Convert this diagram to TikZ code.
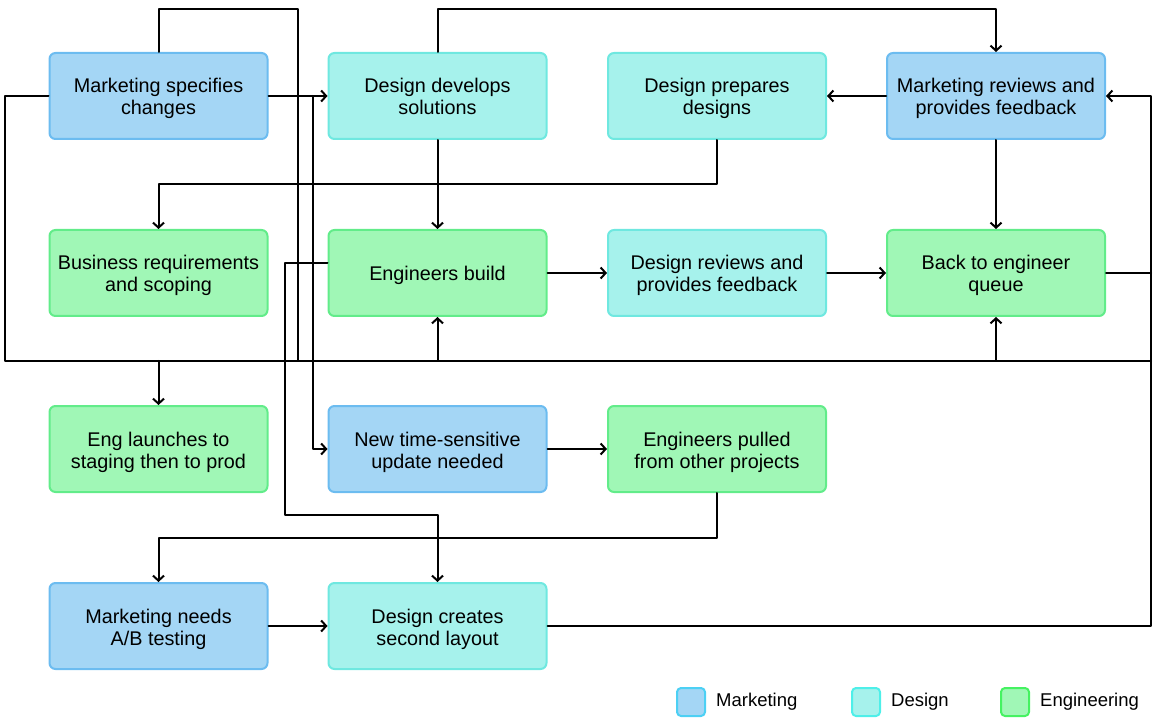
\documentclass[tikz,border=0pt]{standalone}
\usepackage{fontspec}
\setmainfont{Liberation Sans}
\usetikzlibrary{arrows.meta,positioning}

\definecolor{mktfill}{HTML}{A4D6F5}
\definecolor{mktline}{HTML}{6CBCF0}
\definecolor{desfill}{HTML}{A6F2EC}
\definecolor{desline}{HTML}{6FE8E0}
\definecolor{engfill}{HTML}{A0F7B6}
\definecolor{engline}{HTML}{62EC8A}

\tikzset{
  stepnode/.style={rounded corners=6pt, line width=2pt, minimum width=218pt,
    minimum height=86pt, align=center, inner sep=0pt,
    text height=42pt, text depth=4pt,
    font=\fontsize{19.8}{22}\selectfont},
  oneline/.style={text height=20pt, text depth=4pt},
  mkt/.style={stepnode, fill=mktfill, draw=mktline},
  des/.style={stepnode, fill=desfill, draw=desline},
  eng/.style={stepnode, fill=engfill, draw=engline},
  keybox/.style={rounded corners=4pt, line width=2pt, minimum size=28pt, inner sep=0pt},
  keytext/.style={anchor=west, inner sep=0pt, font=\fontsize{18.5}{20}\selectfont},
  flow/.style={line width=2pt, -{Straight Barb[length=5pt,width=11pt,line width=2pt]}},
  wire/.style={line width=2pt}
}

\begin{document}
\begin{tikzpicture}[x=1pt,y=-1pt,line cap=round,line join=round]
\useasboundingbox (0,0) rectangle (1157,719);

% boxes
\node[mkt] (specify) at (158.5,96) {Marketing specifies\\changes};
\node[des] (develop) at (437.5,96) {Design develops\\solutions};
\node[des] (prepare) at (717,96) {Design prepares\\designs};
\node[mkt] (review) at (996,96) {Marketing reviews and\\provides feedback};
\node[eng] (scoping) at (158.5,273) {Business requirements\\and scoping};
\node[eng, oneline] (build) at (437.5,273) {Engineers build};
\node[des] (desreview) at (717,273) {Design reviews and\\provides feedback};
\node[eng] (queue) at (996,273) {Back to engineer\\queue};
\node[eng] (launch) at (158.5,449) {Eng launches to\\staging then to prod};
\node[mkt] (urgent) at (437.5,449) {New time-sensitive\\update needed};
\node[eng] (pulled) at (717,449) {Engineers pulled\\from other projects};
\node[mkt] (abtest) at (158.5,626) {Marketing needs\\A/B testing};
\node[des] (layout) at (437.5,626) {Design creates\\second layout};

% bus and corners
\coordinate (busL) at (5,361);
\coordinate (busR) at (1151,361);
\coordinate (topL) at (298,9);
\coordinate (topR) at (996,9);
\draw[wire] (specify.west) -- (busL |- specify.west) -- (busL) -- (busR);
\draw[wire] (specify.north) -- (specify.north |- topL) -- (topL) -- (topL |- busL);
\draw[flow] (build.south |- busL) -- (build.south);
\draw[flow] (queue.south |- busL) -- (queue.south);
\draw[flow] (launch.north |- busL) -- (launch.north);

\draw[flow] (specify.east) -- (develop.west);
\draw[flow] (313,96) -- (313,449) -- (urgent.west);
\draw[flow] (develop.north) -- (develop.north |- topR) -- (topR) -- (review.north);
\draw[flow] (review.west) -- (prepare.east);
\draw[flow] (review.south) -- (queue.north);
\draw[flow] (develop.south) -- (build.north);
\draw[flow] (prepare.south) -- (717,184) -- (158.5,184) -- (scoping.north);
\draw[flow] (build.east) -- (desreview.west);
\draw[flow] (desreview.east) -- (queue.west);
\draw[wire] (queue.east) -- (busR |- queue.east);
\draw[flow] (layout.east) -- (busR |- layout.east) -- (busR |- review.east) -- (review.east);
\draw[flow] ([yshift=10pt]build.west) -- (285,263) -- (285,515) -- (437.5,515) -- (layout.north);
\draw[flow] (urgent.east) -- (pulled.west);
\draw[flow] (pulled.south) -- (717,538) -- (158.5,538) -- (abtest.north);
\draw[flow] (abtest.east) -- (layout.west);

% legend
\node[keybox, fill=mktfill, draw=mktline!70!cyan] (keymkt) at (691,702) {};
\node[keytext, right=10pt of keymkt] (keymkttext) {Marketing};
\node[keybox, fill=desfill, draw=desline!70!cyan] (keydes) at (866,702) {};
\node[keytext, right=10pt of keydes] (keydestext) {Design};
\node[keybox, fill=engfill, draw=engline!70!green] (keyeng) at (1015,702) {};
\node[keytext, right=10pt of keyeng] (keyengtext) {Engineering};
\end{tikzpicture}
\end{document}
